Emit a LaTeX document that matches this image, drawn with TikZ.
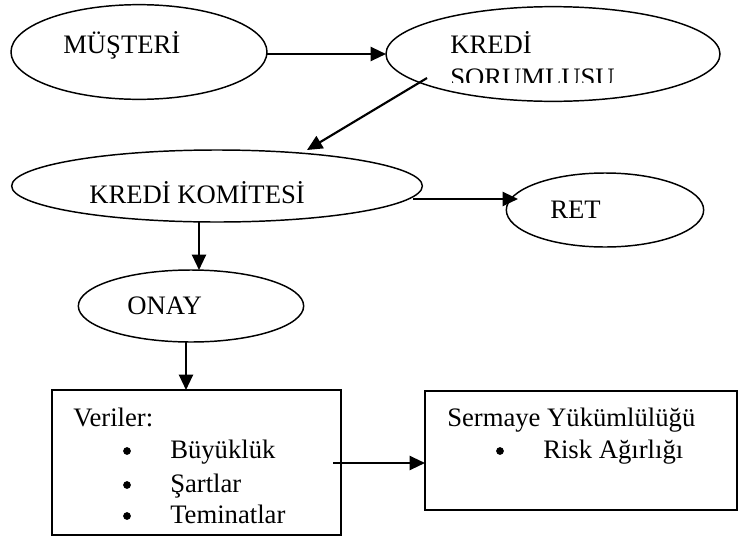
\documentclass[tikz,border=0pt]{standalone}
\usepackage{fontspec}
\setmainfont{Liberation Serif}
\usetikzlibrary{shapes.geometric,arrows.meta}
\begin{document}
\begin{tikzpicture}[x=0.75pt,y=-0.75pt,
  ell/.style={draw, ellipse, line width=1.1pt, inner sep=0pt},
  boxn/.style={draw, rectangle, line width=1.4pt, inner sep=0pt},
  arr/.style={line width=1.6pt, -{Triangle[length=11.5pt,width=10.5pt]}},
  lbl/.style={anchor=base west, inner sep=0pt, font=\fontsize{20}{24}\selectfont},
  bul/.style={circle, fill, inner sep=0pt, minimum size=5.8pt}]
\useasboundingbox (0,0) rectangle (739,536);

% shapes
\node[ell, minimum width=192pt, minimum height=71pt] (mus) at (139,52) {};
\node[ell, minimum width=250.5pt, minimum height=71pt] (kso) at (553,54) {};
\node[ell, minimum width=308pt, minimum height=54pt] (kko) at (217,186) {};
\node[ell, minimum width=148pt, minimum height=55.5pt] (ret) at (605,210) {};
\node[ell, minimum width=169pt, minimum height=54pt] (ony) at (191,306) {};
\node[boxn, minimum width=216.75pt, minimum height=108.75pt] (ver) at (196.5,462.5) {};
\node[boxn, minimum width=234pt, minimum height=89.25pt] (ser) at (581,450.5) {};

% texts
\node[lbl] (tmus) at (63,53) {MÜŞTERİ};
\node[lbl] (tkre) at (450,53) {KREDİ};
\begin{scope}
\clip (440,60) rectangle (640,82);
\node[lbl] (tsor) at (450,86) {SORUMLUSU};
\end{scope}
\node[lbl] (tkko) at (89,203) {KREDİ KOMİTESİ};
\node[lbl] (tret) at (550,218) {RET};
\node[lbl] (tony) at (127,314) {ONAY};
\node[lbl] (tver) at (73,426) {Veriler:};
\node[bul] (b1) at (127,451) {};
\node[lbl] (tbuy) at (170,458) {Büyüklük};
\node[bul] (b2) at (127,485) {};
\node[lbl] (tsar) at (170,492) {Şartlar};
\node[bul] (b3) at (127,516) {};
\node[lbl] (ttem) at (170,523) {Teminatlar};
\node[lbl] (tser) at (447,426) {Sermaye Yükümlülüğü};
\node[bul] (b4) at (500,451) {};
\node[lbl] (trsk) at (543,458) {Risk Ağırlığı};

% connector end points
\coordinate (a1s) at (267,54);
\coordinate (a1e) at (386,54);
\coordinate (a2s) at (427,78);
\coordinate (a2e) at (307,150);
\coordinate (a3s) at (413,199);
\coordinate (a3e) at (518,199);
\coordinate (a4s) at (199,222);
\coordinate (a4e) at (199,270);
\coordinate (a5s) at (186,342);
\coordinate (a5e) at (186,390);
\coordinate (a6s) at (333,463);
\coordinate (a6e) at (425,463);

% connectors
\draw[arr] (a1s) -- (a1e);
\draw[arr] (a2s) -- (a2e);
\draw[arr] (a3s) -- (a3e);
\draw[arr] (a4s) -- (a4e);
\draw[arr] (a5s) -- (a5e);
\draw[arr] (a6s) -- (a6e);
\end{tikzpicture}
\end{document}
